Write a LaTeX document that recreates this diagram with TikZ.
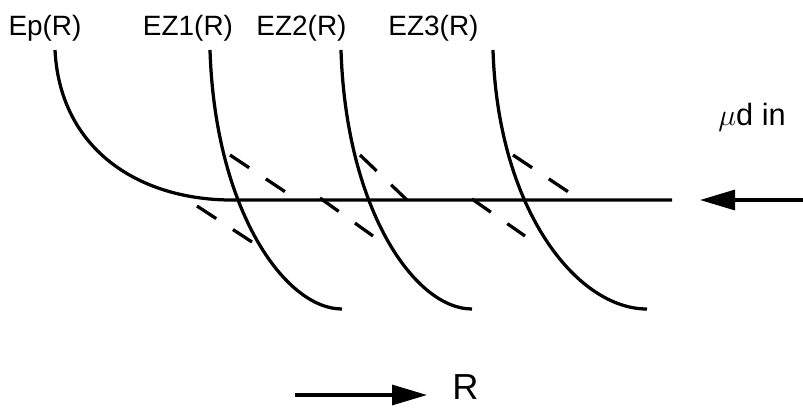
\documentclass[tikz,border=0pt]{standalone}
\usepackage{fontspec}
\setmainfont{Liberation Sans}
\usetikzlibrary{arrows.meta}

\begin{document}
\begin{tikzpicture}[
		x=0.2mm, y=-0.2mm,
		>={Triangle[length=7mm,width=4mm]},
		curve/.style={line width=0.65mm},
		halo/.style={line width=0.65mm, dash pattern=on 4.6mm off 4mm},
		every node/.style={
			inner sep=0pt,
			font=\fontsize{15.9}{18}\selectfont
		}
		]
		
		\useasboundingbox (0,0) rectangle (803,407);
		
		%--------------------------------------------------
		% Labels
		%--------------------------------------------------
		
		\node[anchor=base] (ep) at (45,35) {Ep(R)};
		\node[anchor=base] (ez1) at (188,35) {EZ1(R)};
		\node[anchor=base] (ez2) at (301.5,35) {EZ2(R)};
		\node[anchor=base] (ez3) at (433.5,35) {EZ3(R)};
		
		%--------------------------------------------------
		% Curves
		%--------------------------------------------------
		
		\draw[curve] (55,50) .. controls (60,150) and (140,201) .. (235,200) -- (672,200);
		
		\foreach \a/\b/\c in {210/342/285, 341/472/415, 493/647/577}
		{
			\draw[curve] (\a,50) .. controls (\a+5,210) and (\c,309) .. (\b,309);
		}
		
		\foreach \ax/\ay/\bx/\by in {230/155/287/193, 197/206/252/242,
			360/155/407/200, 320/198/373/236, 513/155/570/193, 472/199/525/236}
		{
			\draw[halo] (\ax,\ay) -- (\bx,\by);
		}
		
		%--------------------------------------------------
		% Arrows
		%--------------------------------------------------
		
		\node[anchor=base, font=\fontsize{17.5}{20}\selectfont] (muin) at (752,125) {$\mu$d in};
		\coordinate (beam) at (803,200);
		\coordinate (beamtip) at (700,200);
		\draw[->,curve] (beam) -- (beamtip);
		
		\node[anchor=base west, font=\fontsize{20.6}{24}\selectfont] (r) at (452,399) {R};
		\coordinate (rtail) at (295,395);
		\coordinate (rtip) at (427,395);
		\draw[->,curve] (rtail) -- (rtip);
		
	\end{tikzpicture}
\end{document}
